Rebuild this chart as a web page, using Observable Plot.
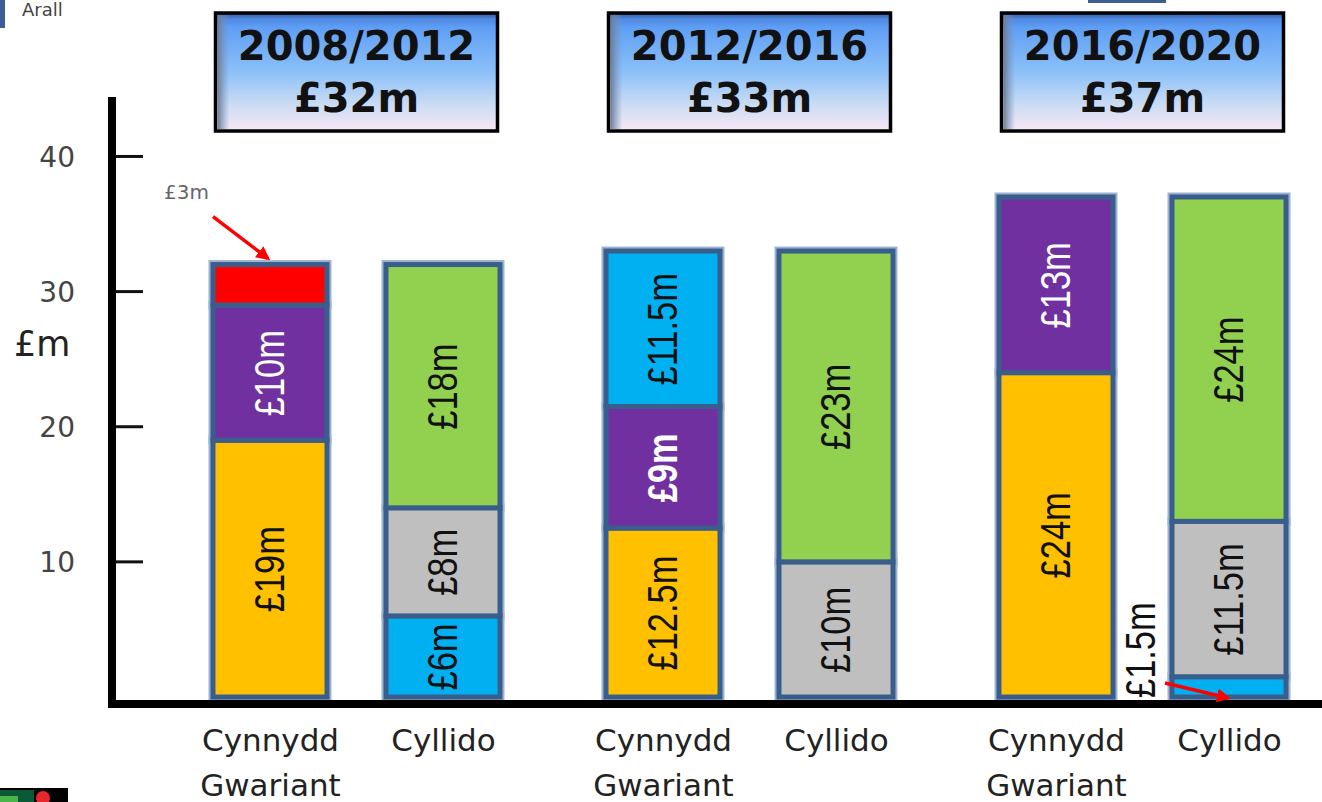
<!DOCTYPE html>
<html><head><meta charset="utf-8">
<script src="https://cdn.jsdelivr.net/npm/d3@7"></script>
<script src="https://cdn.jsdelivr.net/npm/@observablehq/plot@0.6"></script>
<style>html,body{margin:0;padding:0;background:#fff;} #chart{position:relative;width:1322px;height:802px;overflow:hidden}</style>
</head><body><div id="chart"></div>
<script>
// ---- data ----
const periods = ["2008/2012", "2012/2016", "2016/2020"];
const periodTotals = ["£32m", "£33m", "£37m"];
const barNames = ["Cynnydd Gwariant", "Cyllido"];
const categories = ["melyn", "porffor", "coch", "glas", "llwyd", "gwyrdd"];
const categoryColors = ["#ffc000", "#7030a0", "#ff0000", "#00b0f0", "#bfbfbf", "#92d050"];
const yTicks = [10, 20, 30, 40];

const segPeriod = ["2008/2012","2008/2012","2008/2012","2008/2012","2008/2012","2008/2012",
                   "2012/2016","2012/2016","2012/2016","2012/2016","2012/2016",
                   "2016/2020","2016/2020","2016/2020","2016/2020","2016/2020"];
const segBar = ["Cynnydd Gwariant","Cynnydd Gwariant","Cynnydd Gwariant","Cyllido","Cyllido","Cyllido",
                "Cynnydd Gwariant","Cynnydd Gwariant","Cynnydd Gwariant","Cyllido","Cyllido",
                "Cynnydd Gwariant","Cynnydd Gwariant","Cyllido","Cyllido","Cyllido"];
const segCategory = ["melyn","porffor","coch","glas","llwyd","gwyrdd",
                     "melyn","porffor","glas","llwyd","gwyrdd",
                     "melyn","porffor","glas","llwyd","gwyrdd"];
const segValue = [19, 10, 3, 6, 8, 18,
                  12.5, 9, 11.5, 10, 23,
                  24, 13, 1.5, 11.5, 24];
const segLabel = ["£19m","£10m","£3m","£6m","£8m","£18m",
                  "£12.5m","£9m","£11.5m","£10m","£23m",
                  "£24m","£13m","£1.5m","£11.5m","£24m"];

const rows = segValue.map((v, i) => ({
  period: segPeriod[i], bar: segBar[i], cat: segCategory[i], value: v, label: segLabel[i]
}));

const labelFont = "'Liberation Sans', Arial, sans-serif";
const mainFont = "'DejaVu Sans', Verdana, sans-serif";
const small = d => d.value < 4; // labelled outside the bar
const inside = (pred) => d => (!small(d) && pred(d)) ? d.label : null;

const chart = Plot.plot({
  width: 1322, height: 802,
  marginLeft: 112, marginRight: 30, marginTop: 97, marginBottom: 105,
  style: {fontFamily: mainFont, background: "transparent", overflow: "visible"},
  fx: {domain: periods, paddingInner: 0.2386, paddingOuter: 0.117, align: 1, axis: null, label: null},
  x: {domain: barNames, paddingInner: 0.34, paddingOuter: 0.03, label: null},
  y: {domain: [0, 44.4], axis: null},
  color: {domain: categories, range: categoryColors},
  marks: [
    Plot.barY(rows, {fx: "period", x: "bar", y: "value", fill: "cat", stroke: "#9cb2d2", strokeWidth: 9}),
    Plot.barY(rows, {fx: "period", x: "bar", y: "value", fill: "cat", stroke: "#3a5e8c", strokeWidth: 5}),
    Plot.text(rows, Plot.stackY({fx: "period", x: "bar", y: "value",
      text: inside(d => d.cat !== "porffor"), rotate: -90, fill: "#111",
      fontSize: 42, fontFamily: labelFont})),
    Plot.text(rows, Plot.stackY({fx: "period", x: "bar", y: "value",
      text: inside(d => d.cat === "porffor" && d.label !== "£9m"), rotate: -90, fill: "#fff",
      fontSize: 42, fontFamily: labelFont})),
    Plot.text(rows, Plot.stackY({fx: "period", x: "bar", y: "value",
      text: inside(d => d.cat === "porffor" && d.label === "£9m"), rotate: -90, fill: "#fff",
      fontSize: 42, fontWeight: "bold", fontFamily: labelFont})),
    Plot.axisX({tickSize: 0, tickPadding: 22, fontSize: 31, lineHeight: 1.45, fill: "#222",
      label: null, tickFormat: d => d === "Cynnydd Gwariant" ? "Cynnydd\nGwariant" : d})
  ]
});
document.getElementById("chart").appendChild(chart);

// condense the in-bar labels along their reading direction (narrow face)
d3.select(chart).selectAll('g[aria-label="text"] text').each(function () {
  const t = this.getAttribute("transform") || "";
  this.setAttribute("transform", t + " scale(0.82,1)");
});

// ---- decorations using the chart's own scales ----
const svg = d3.select(chart);
const fxs = chart.scale("fx"), xs = chart.scale("x"), ys = chart.scale("y");
const barLeft = (p, b) => fxs.apply(p) + xs.apply(b) - xs.range[0];
const y0 = ys.apply(0), yTop = ys.apply(ys.domain[1]);
const axisX = fxs.range[0];

const defs = svg.append("defs");
const grad = defs.append("linearGradient").attr("id", "boxgrad").attr("x1", 0).attr("x2", 0).attr("y1", 0).attr("y2", 1);
[[0, "#2e5496"], [0.05, "#4f88e0"], [0.12, "#5e9ef4"], [0.5, "#8cc0f8"], [0.78, "#cbdcf3"], [1, "#f8e8f6"]]
  .forEach(([o, c]) => grad.append("stop").attr("offset", o).attr("stop-color", c));
const lgrad = defs.append("linearGradient").attr("id", "edgegrad").attr("x1", 0).attr("x2", 1).attr("y1", 0).attr("y2", 0);
[[0, "#6d7c92"], [1, "rgba(120,150,200,0)"]].forEach(([o, c]) => lgrad.append("stop").attr("offset", o).attr("stop-color", c));
const mk = defs.append("marker").attr("id", "redhead").attr("viewBox", "0 0 10 10").attr("refX", 8).attr("refY", 5)
  .attr("markerWidth", 4).attr("markerHeight", 4).attr("orient", "auto");
mk.append("path").attr("d", "M0,0L10,5L0,10Z").attr("fill", "#ff0000");

const deco = svg.append("g").attr("text-anchor", "start");

// y axis
deco.append("line").attr("x1", axisX).attr("x2", axisX).attr("y1", yTop).attr("y2", y0 + 11)
  .attr("stroke", "#000").attr("stroke-width", 8);
deco.append("line").attr("x1", axisX - 4).attr("x2", 1322).attr("y1", y0 + 7).attr("y2", y0 + 7)
  .attr("stroke", "#000").attr("stroke-width", 8);
yTicks.forEach(t => {
  deco.append("line").attr("x1", axisX + 4).attr("x2", axisX + 31).attr("y1", ys.apply(t)).attr("y2", ys.apply(t))
    .attr("stroke", "#111").attr("stroke-width", 3);
  deco.append("text").attr("x", axisX - 37).attr("y", ys.apply(t)).attr("dy", "0.36em")
    .attr("text-anchor", "end").attr("font-size", 28).attr("fill", "#444")
    .attr("font-family", mainFont).text(t);
});
deco.append("text").attr("x", 14).attr("y", ys.apply(25.2)).attr("font-size", 35).attr("fill", "#222")
  .attr("text-anchor", "start").attr("font-family", mainFont).text("£m");

// period header boxes
periods.forEach((p, i) => {
  const cx = fxs.apply(p) + fxs.bandwidth / 2;
  const g = deco.append("g");
  g.append("rect").attr("x", cx - 141).attr("y", 13).attr("width", 282).attr("height", 118)
    .attr("fill", "url(#boxgrad)").attr("stroke", "#000").attr("stroke-width", 3.5);
  g.append("rect").attr("x", cx - 139).attr("y", 15).attr("width", 12).attr("height", 114)
    .attr("fill", "url(#edgegrad)");
  g.append("text").attr("x", cx).attr("y", 60).attr("text-anchor", "middle").attr("font-size", 40)
    .attr("font-weight", "bold").attr("fill", "#111").attr("font-family", mainFont).text(p);
  g.append("text").attr("x", cx).attr("y", 112).attr("text-anchor", "middle").attr("font-size", 40)
    .attr("font-weight", "bold").attr("fill", "#111").attr("font-family", mainFont).text(periodTotals[i]);
});

// outside labels for thin segments
let cum = {};
rows.forEach(d => {
  const key = d.period + "|" + d.bar;
  const base = cum[key] || 0;
  cum[key] = base + d.value;
  if (!small(d)) return;
  const left = barLeft(d.period, d.bar);
  if (base > 0) {
    const top = ys.apply(base + d.value);
    deco.append("text").attr("x", left - 4).attr("y", top - 66).attr("text-anchor", "end")
      .attr("font-size", 20).attr("fill", "#666").attr("font-family", mainFont).text(d.label);
    deco.append("line").attr("x1", left).attr("y1", top - 48).attr("x2", left + 55).attr("y2", top - 6)
      .attr("stroke", "#ff0000").attr("stroke-width", 3.5).attr("marker-end", "url(#redhead)");
  } else {
    deco.append("text").attr("transform", `translate(${left - 32},${y0 + 1}) rotate(-90) scale(0.82,1)`)
      .attr("text-anchor", "start").attr("dy", "0.36em").attr("font-size", 42).attr("fill", "#111")
      .attr("font-family", labelFont).text(d.label);
    deco.append("line").attr("x1", left - 7).attr("y1", y0 - 14).attr("x2", left + 56).attr("y2", y0 + 1)
      .attr("stroke", "#ff0000").attr("stroke-width", 3.5).attr("marker-end", "url(#redhead)");
  }
});

// fragments at the picture edges
deco.append("rect").attr("x", 0).attr("y", 0).attr("width", 5).attr("height", 28).attr("fill", "#3b5e9a");
deco.append("text").attr("x", 22).attr("y", 16).attr("font-size", 18).attr("fill", "#444")
  .attr("text-anchor", "start").attr("font-family", mainFont).text("Arall");
deco.append("rect").attr("x", 1088).attr("y", 0).attr("width", 78).attr("height", 3).attr("fill", "#3d5f8f");
deco.append("rect").attr("x", 0).attr("y", 788).attr("width", 68).attr("height", 14).attr("fill", "#000");
deco.append("rect").attr("x", 0).attr("y", 790).attr("width", 34).attr("height", 12).attr("fill", "#0b5a37");
deco.append("rect").attr("x", 0).attr("y", 796).attr("width", 18).attr("height", 6).attr("fill", "#4ab54a");
deco.append("circle").attr("cx", 43).attr("cy", 798).attr("r", 7).attr("fill", "#e8262b");
</script></body></html>
